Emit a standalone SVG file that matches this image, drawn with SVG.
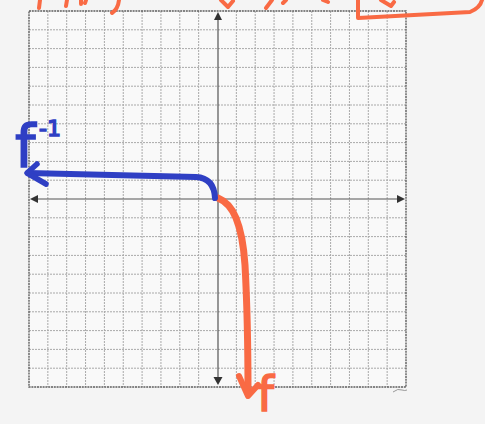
<svg xmlns="http://www.w3.org/2000/svg" width="485" height="424" viewBox="0 0 485 424">
<style>
.grid{fill:none;stroke:#a9a9a9;stroke-width:1;stroke-dasharray:2 1}
.border{fill:none;stroke:#5e5e5e;stroke-width:1.4;stroke-dasharray:2 0.8}
.axis{fill:none;stroke:#555;stroke-width:1.2}
.ahead{fill:#333}
.orange{fill:none;stroke:#f96a44;stroke-linecap:round;stroke-linejoin:round}
.blue{fill:none;stroke:#2f3fc4;stroke-linecap:round;stroke-linejoin:round}
.lblue{font-family:"DejaVu Sans",sans-serif;fill:#2f3fc4;stroke:#2f3fc4;stroke-width:1.5}
.lorange{font-family:"DejaVu Sans",sans-serif;fill:#f96a44;stroke:#f96a44;stroke-width:1.5}
</style>
<rect width="485" height="424" fill="#f4f4f4"/>
<g id="paper">
<rect x="29" y="11" width="377" height="376" fill="#f9f9f9"/>
<path class="grid" d="M47.85 11V387M66.7 11V387M85.55 11V387M104.4 11V387M123.25 11V387M142.1 11V387M160.95 11V387M179.8 11V387M198.65 11V387M236.35 11V387M255.2 11V387M274.05 11V387M292.9 11V387M311.75 11V387M330.6 11V387M349.45 11V387M368.3 11V387M387.15 11V387M29 29.8H406M29 48.6H406M29 67.4H406M29 86.2H406M29 105H406M29 123.8H406M29 142.6H406M29 161.4H406M29 180.2H406M29 217.8H406M29 236.6H406M29 255.4H406M29 274.2H406M29 293H406M29 311.8H406M29 330.6H406M29 349.4H406M29 368.2H406"/>
<rect class="border" x="29" y="11" width="377" height="376"/>
<path d="M393 392q5 -4 9 -2q3 1 5 0" fill="none" stroke="#999" stroke-width="1"/>
</g>
<g id="axes">
<path class="axis" d="M218 18V378M36 199H399"/>
<path class="ahead" d="M218 12L214 20H222Z"/>
<path class="ahead" d="M218 385L213.5 377H222.5Z"/>
<path class="ahead" d="M30 199L38 195V203Z"/>
<path class="ahead" d="M405 199L397 195V203Z"/>
</g>
<g id="top-scribbles" class="orange" stroke-width="4">
<path d="M40 0L39 8"/>
<path d="M67 0L66 6"/>
<path d="M81 0L81 4M86 0L85 3"/>
<path d="M119 0Q118 9 112 13"/>
<path d="M221 0L228 7L233 1"/>
<path d="M272 0L266 8"/>
<path d="M286 0L283 3"/>
<path d="M323 0L328 2"/>
<path d="M358 0L358 18L470 12Q480 8 482 0"/>
<path d="M381 0L391 6L394 2"/>
</g>
<g id="f-curve">
<path class="orange" stroke-width="7" d="M218 198Q230 203 236 218Q243 235 245 265Q248 320 248 393"/>
<path class="orange" stroke-width="6" d="M239 376L248 396L258 385"/>
</g>
<g id="f-inverse-curve">
<path class="blue" stroke-width="6" d="M215 198Q214 178 196 177L28 173"/>
<path class="blue" stroke-width="5.5" d="M37 164L27 173L46 184"/>
</g>
<g id="labels">
<text class="lblue" x="15" y="167" font-size="58">f</text>
<text class="lblue" x="39" y="136" font-size="22">-1</text>
<text class="lorange" x="257" y="411" font-size="48">f</text>
</g>
</svg>
